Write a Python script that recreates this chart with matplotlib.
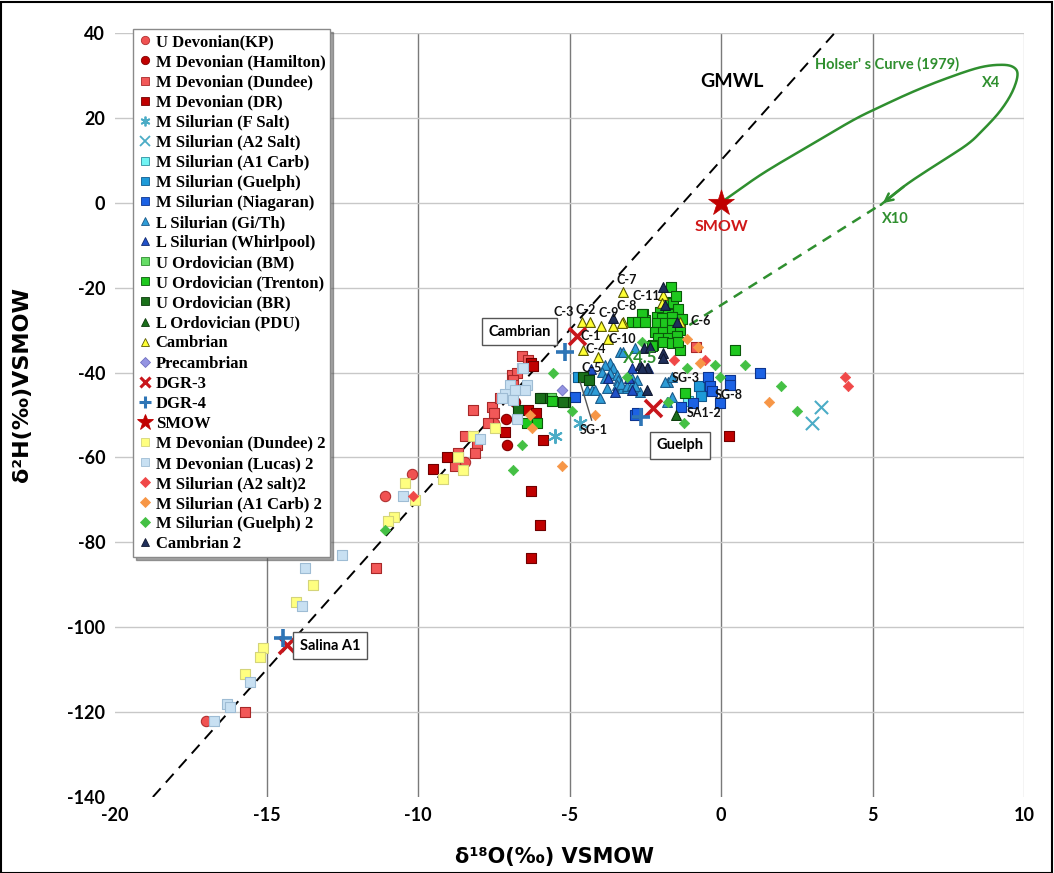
import matplotlib
matplotlib.use('Agg')
import numpy as np
import matplotlib.pyplot as plt
from matplotlib.lines import Line2D
from matplotlib.patches import Rectangle

# ---------------- data (delta18O, delta2H) ----------------
ukp_x = [-17.0, -11.1, -10.2, -8.45, -7.5]
ukp_y = [-122, -69, -64, -61, -52]
ham_x = [-7.07, -7.1, -6.8]
ham_y = [-57, -51, -47]
dundee_x = [-15.7, -11.4, -6.56, -6.36, -6.9, -6.74, -6.85, -6.86, -8.17, -7.57, -7.5, -8.45, -8.06, -8.12, -8.67, -8.78, -0.83, -7.3, -7.7]
dundee_y = [-120, -86, -36, -37, -40.6, -40.2, -41.7, -43, -48.8, -48, -49.5, -55, -57, -59, -59, -62, -34, -46, -52]
dr_x = [-6.27, -7.13, -9.05, -9.5, -5.86, -6.27, -5.97, -6.27, -6.36, -6.1, 0.26, -6.2]
dr_y = [-37.8, -53.9, -59.8, -62.8, -55.9, -68, -75.8, -83.8, -48.8, -49.5, -55, -38.5]
fsalt_x = [-5.48, -4.65]
fsalt_y = [-55, -52]
a2salt_x = [3.29, 3.01]
a2salt_y = [-48, -52]
a1carb_x = [-1.08]
a1carb_y = [-46.7]
guelph_x = [-4.71, -0.73, -0.65]
guelph_y = [-41, -43.2, -45.5]
niag_x = [-0.42, -0.36, -0.31, -0.03, 0.3, 0.3, 1.29, -1.32, -0.91, -2.84, -4.82, -2.78]
niag_y = [-41, -43.2, -44.3, -47.2, -41.8, -42.9, -40, -48, -47.1, -50, -45.8, -49.6]
gith_x = [-3.33, -3.66, -3.83, -3.55, -3.94, -3.66, -3.44, -3.83, -3.39, -2.95, -2.78, -4.43, -4.26, -4.16,
          -3.77, -3.44, -3.27, -3.1, -2.83, -2.67, -3.99, -1.74, -3.22, -2.84, -3.3, -3.1, -2.95, -2.84,
          -1.85, -1.63, -1.63, -1.79]
gith_y = [-35.1, -37.8, -38.2, -39, -39.8, -40.2, -40.6, -41.4, -41.7, -41.4, -41.7, -44.1, -44.1, -44.1,
          -43.7, -42.9, -43.7, -43.7, -43.7, -44.5, -46.1, -42.2, -35.1, -34.3, -42.7, -43.1, -42.9, -43.1,
          -42.2, -41, -45.8, -46.9]
whirl_x = [-3.72, -3.5, -2.95, -2.95, -2.4, -4.3, -3.05]
whirl_y = [-41.4, -44.5, -44.1, -39, -39, -39.2, -41.4]
bm_x = [-5.6]
bm_y = [-46.1]
trenton_x = [-1.65, -1.68, -1.6, -1.41, -2.01, -1.74, -2.58, -2.51, -2.12, -1.96, -1.63, -2.12, -1.85, -1.63,
             -2.18, -1.9, -1.63, -1.35, -2.07, -1.74, -1.46, -1.9, -1.63, -2.23, -1.35, -1.42, -2.62, -2.95,
             -2.73, -2.51, -2.29, 0.47, -1.19, -6.41, -6.08, -5.59, -1.5, -1.3]
trenton_y = [-19.9, -23.3, -23.7, -25.1, -25.7, -26.1, -26.1, -27.6, -26.8, -27.2, -26.8, -28.4, -28.4, -28.4,
             -30.4, -30.4, -30, -30, -31.9, -31.9, -31.5, -32.7, -33.1, -33.5, -34.7, -32.7, -26.1, -28,
             -28, -28, -33.7, -34.8, -44.9, -52, -52, -46.6, -22, -27.5]
br_x = [-5.15, -4.55, -4.35, -5.92, -6.69, -5.97, -5.2]
br_y = [-46.9, -41, -41.8, -45.9, -48.8, -46.1, -46.9]
pdu_x = [-1.49]
pdu_y = [-50]
camb_x = [-4.6, -4.32, -3.97, -3.22, -3.58, -3.72, -4.54, -4.05, -3.22, -1.9, -1.35, -1.96, -3.28]
camb_y = [-28, -28, -29, -21, -29, -32.2, -34.7, -36.3, -28, -21.7, -28, -23.7, -28.4]
precamb_x = [-5.26]
precamb_y = [-44]
dgr3_x = [-4.76, -2.23, -14.31]
dgr3_y = [-31.5, -48.4, -104.2]
dgr4_x = [-5.15, -2.65, -14.45]
dgr4_y = [-35.1, -50.4, -102.6]
smow_x = [0]
smow_y = [0]
dundee2_x = [-13.46, -14.04, -15.1, -15.21, -15.71, -10.43, -10.1, -10.78, -11.0, -7.46, -8.17, -8.5, -9.16, -8.67]
dundee2_y = [-90, -94, -105, -107, -111, -66, -70, -74, -75, -53, -55, -63, -65, -60]
lucas2_x = [-13.73, -13.82, -15.54, -16.3, -16.2, -16.72, -12.52, -10.5, -6.98, -7.13, -6.8, -6.58, -6.41,
            -6.47, -7.24, -6.74, -7.97, -6.88, -6.53]
lucas2_y = [-86, -95, -113, -118, -118.7, -122, -83, -69, -43, -45, -44, -39, -43,
            -44, -46, -51, -55.6, -46.5, -39]
a2salt2_x = [-10.16, -1.55, -0.53, 4.09, 4.2]
a2salt2_y = [-69, -37, -37, -41, -43.1]
a1carb2_x = [-1.13, -0.75, -0.69, 1.58, -4.16, -6.3, -6.25, -5.24]
a1carb2_y = [-32, -34, -37.8, -47, -50, -50, -53, -62]
guelph2_x = [-2.62, -1.13, -0.2, -0.03, 0.79, -1.22, -1.74, -3.11, 1.97, 2.5, -4.93, -5.53, -6.56, -6.85, -11.09]
guelph2_y = [-32.7, -39, -38.2, -41, -38.2, -52, -46.9, -41, -43.1, -49, -49, -40, -57, -63, -77]
camb2_x = [-1.92, -1.85, -1.44, -2.54, -1.92, -3.55, -2.67, -2.45, -2.34, -2.45, -1.9, -2.62]
camb2_y = [-19.8, -24.1, -28, -34.3, -35.5, -27.2, -38.2, -39, -33.9, -44.1, -36.6, -39]

# GMWL and Holser's curve
gmwl_x = [-18.75, 3.75]
gmwl_y = [-140, 40]
holser_x = [0.0, 0.13, 1.4, 3.05, 4.37, 5.25, 6.35, 7.44, 8.55, 9.32, 9.7, 9.78, 9.59, 9.2, 8.65, 8.1, 7.0, 6.1, 5.27]
holser_y = [0.0, 0.7, 7.0, 14.0, 19.5, 22.6, 26.2, 29.3, 31.9, 32.5, 31.7, 29.7, 25.8, 21.5, 17.2, 13.6, 8.5, 4.2, -0.5]
holser_dash_x = [5.1, -2.2]
holser_dash_y = [-1.2, -34.0]

# ---------------- styling ----------------
plt.rcParams['font.family'] = ['Lato', 'DejaVu Sans']
plt.rcParams['font.weight'] = 'bold'
plt.rcParams['axes.unicode_minus'] = False

fig = plt.figure(figsize=(10.54, 8.73), dpi=100)
ax = fig.add_axes([115/1054, 1-797/873, (1024-115)/1054, (797-33)/873])

series = [
    ('U Devonian(KP)', ukp_x, ukp_y, 'o', 55, '#F05252', '#B03030', 0.8),
    ('M Devonian (Hamilton)', ham_x, ham_y, 'o', 55, '#C00000', '#800000', 0.8),
    ('M Devonian (Dundee)', dundee_x, dundee_y, 's', 48, '#F25858', '#A82828', 0.8),
    ('M Devonian (DR)', dr_x, dr_y, 's', 48, '#C00000', '#700000', 0.8),
    ('M Silurian (F Salt)', fsalt_x, fsalt_y, (6, 2, 0), 90, '#4BACC6', '#4BACC6', 1.5),
    ('M Silurian (A2 Salt)', a2salt_x, a2salt_y, 'x', 90, '#4BACC6', '#4BACC6', 1.5),
    ('M Silurian (A1 Carb)', a1carb_x, a1carb_y, 's', 48, '#70F4F4', '#2E8FA0', 0.8),
    ('M Silurian (Guelph)', guelph_x, guelph_y, 's', 48, '#1E9AD8', '#0E5A90', 0.8),
    ('M Silurian (Niagaran)', niag_x, niag_y, 's', 48, '#1C62E4', '#0C3590', 0.8),
    ('L Silurian (Gi/Th)', gith_x, gith_y, '^', 50, '#2E9CD6', '#1A5A8A', 0.8),
    ('L Silurian (Whirlpool)', whirl_x, whirl_y, '^', 50, '#2050C8', '#102A70', 0.8),
    ('U Ordovician (BM)', bm_x, bm_y, 's', 48, '#66DD66', '#2E8B2E', 0.8),
    ('U Ordovician (Trenton)', trenton_x, trenton_y, 's', 48, '#1EC81E', '#0A5A0A', 0.8),
    ('U Ordovician (BR)', br_x, br_y, 's', 48, '#1A701A', '#0A3A0A', 0.8),
    ('L Ordovician (PDU)', pdu_x, pdu_y, '^', 50, '#1A6E1A', '#0A3A0A', 0.8),
    ('Cambrian', camb_x, camb_y, '^', 50, '#FFFF33', '#5A5A00', 0.8),
    ('Precambrian', precamb_x, precamb_y, 'D', 30, '#9494E2', '#7070C0', 0.6),
    ('DGR-3', dgr3_x, dgr3_y, 'x', 150, '#C8161C', '#C8161C', 2.6),
    ('DGR-4', dgr4_x, dgr4_y, '+', 180, '#2E75B6', '#2E75B6', 2.6),
    ('SMOW', smow_x, smow_y, '*', 380, '#C00000', '#C00000', 0.5),
    ('M Devonian (Dundee) 2', dundee2_x, dundee2_y, 's', 42, '#FFFF80', '#D4D47A', 0.8),
    ('M Devonian (Lucas) 2', lucas2_x, lucas2_y, 's', 42, '#C8E0F2', '#9EBCD4', 0.8),
    ('M Silurian (A2 salt)2', a2salt2_x, a2salt2_y, 'D', 28, '#F04848', '#F04848', 0.5),
    ('M Silurian (A1 Carb) 2', a1carb2_x, a1carb2_y, 'D', 28, '#F79646', '#F79646', 0.5),
    ('M Silurian (Guelph) 2', guelph2_x, guelph2_y, 'D', 28, '#44C044', '#44C044', 0.5),
    ('Cambrian 2', camb2_x, camb2_y, '^', 50, '#1F2F5A', '#101830', 0.8),
]

# grid lines
ax.set_xlim(-20, 10)
ax.set_ylim(-140, 40)
ax.set_xticks(range(-20, 11, 5))
ax.set_yticks(range(-140, 41, 20))
for xv in range(-15, 6, 5):
    ax.axvline(xv, color='#7a7a7a', lw=1.0, zorder=0)
ax.axvline(10, color='#c8c8c8', lw=1.0, zorder=0)
for yv in range(-120, 41, 20):
    ax.axhline(yv, color='#c8c8c8', lw=1.0, zorder=0)
for s in ax.spines.values():
    s.set_visible(False)
ax.tick_params(length=0, labelsize=13, pad=7)

# GMWL
ax.plot(gmwl_x, gmwl_y, color='black', lw=1.4, ls=(0, (6, 4)), zorder=1)

handles = []
for i, (lab, xs, ys, mk, sz, fc, ec, lw) in enumerate(series):
    if mk in ('x', '+') or isinstance(mk, tuple):
        ax.scatter(xs, ys, marker=mk, s=sz, c=fc, linewidths=lw, zorder=3 + i * 0.01)
        handles.append(Line2D([], [], ls='none', marker=mk, color=fc, markersize=7 if mk != '+' else 8,
                              markeredgewidth=1.3 if lw < 2 else 2.2))
    else:
        ax.scatter(xs, ys, marker=mk, s=sz, facecolors=fc, edgecolors=ec, linewidths=lw, zorder=3 + i * 0.01)
        msz = 6 if mk in ('s', 'o', '^') else (5 if mk == 'D' else 12)
        handles.append(Line2D([], [], ls='none', marker=mk, markerfacecolor=fc, markeredgecolor=ec,
                              markeredgewidth=0.6, markersize=msz))


def catmull_rom(px, py, n=12):
    p = np.column_stack([px, py]).astype(float)
    p = np.vstack([p[0], p, p[-1]])
    out = []
    for i in range(1, len(p) - 2):
        p0, p1, p2, p3 = p[i - 1], p[i], p[i + 1], p[i + 2]
        for t in np.linspace(0, 1, n, endpoint=False):
            t2, t3 = t * t, t * t * t
            out.append(0.5 * ((2 * p1) + (-p0 + p2) * t + (2 * p0 - 5 * p1 + 4 * p2 - p3) * t2
                              + (-p0 + 3 * p1 - 3 * p2 + p3) * t3))
    out.append(p[-2])
    out = np.array(out)
    return out[:, 0], out[:, 1]


# Holser's curve
green = '#2F8F2F'
hx, hy = catmull_rom(holser_x, holser_y)
ax.plot(hx, hy, color=green, lw=1.8, zorder=2, solid_capstyle='round')
ax.annotate('', xy=(holser_x[-1], holser_y[-1]), xytext=(holser_x[-2], holser_y[-2]),
            arrowprops=dict(arrowstyle='->', color=green, lw=1.8, mutation_scale=14), zorder=2)
ax.plot(holser_dash_x, holser_dash_y, color=green, lw=1.8, ls=(0, (4, 3)), zorder=2)

# annotations
ax.text(3.1, 32.7, "Holser' s Curve (1979)", color=green, fontsize=10.5, ha='left', va='center')
ax.text(8.9, 28.3, 'X4', color=green, fontsize=10.5, ha='center', va='center')
ax.text(5.75, -3.8, 'X10', color=green, fontsize=10.5, ha='center', va='center')
ax.text(-2.67, -36.6, 'X4.5', color=green, fontsize=12, ha='center', va='center', zorder=4)
ax.text(0.35, 28.6, 'GMWL', color='black', fontsize=14, ha='center', va='center')
ax.text(0.0, -5.6, 'SMOW', color='#D01818', fontsize=11.5, ha='center', va='center')

clabels = [('C-7', -3.1, -18.1), ('C-11', -2.48, -22), ('C-2', -4.46, -25.3), ('C-3', -5.2, -25.8),
           ('C-8', -3.1, -24.4), ('C-9', -3.7, -26), ('C-1', -4.3, -31.4), ('C-10', -3.27, -32.1),
           ('C-4', -4.13, -34.5), ('C-6', -0.66, -27.9), ('C-5', -4.26, -39), ('SG-1', -4.2, -53.5),
           ('SG-3', -1.16, -41.4), ('SG-8', 0.26, -45.3), ('SA1-2', -0.55, -49.6)]
for t, xv, yv in clabels:
    ax.text(xv, yv, t, fontsize=9, ha='center', va='center', color='#111111', zorder=6)
ax.plot([-4.65, -4.27], [-42.2, -51.2], color='#555555', lw=1.0, zorder=6)

boxprops = dict(boxstyle='square,pad=0.45', facecolor='white', edgecolor='#555555', lw=1.0)
ax.text(-6.65, -30.4, 'Cambrian', fontsize=10.5, ha='center', va='center', bbox=boxprops, zorder=7)
ax.text(-1.35, -57.1, 'Guelph', fontsize=10.5, ha='center', va='center', bbox=boxprops, zorder=7)
ax.text(-12.9, -104.4, 'Salina A1', fontsize=10.5, ha='center', va='center', bbox=boxprops, zorder=7)

ax.set_xlabel('δ¹⁸O(‰) VSMOW', fontsize=15, fontweight='bold', fontfamily='DejaVu Sans')
ax.set_ylabel('δ²H(‰)VSMOW', fontsize=16, fontweight='bold', fontfamily='DejaVu Sans')
ax.xaxis.label.set_va('center')
ax.yaxis.label.set_va('center')
ax.xaxis.set_label_coords(0.484, -0.078)
ax.yaxis.set_label_coords(-0.102, 0.54)

leg = ax.legend(handles, [s[0] for s in series], loc='upper left', bbox_to_anchor=(0.02, 1.005),
                prop={'family': 'Liberation Serif', 'weight': 'bold', 'size': 12},
                labelspacing=0.245, handlelength=0.8, handletextpad=0.25, borderpad=0.3,
                borderaxespad=0, frameon=True, fancybox=False, shadow=True, framealpha=1)
leg.get_frame().set_edgecolor('#8a8a8a')
leg.get_frame().set_linewidth(1.0)
leg.set_zorder(20)

fig.patches.append(Rectangle((0.001, 0.0), 0.997, 0.998, transform=fig.transFigure, fill=False,
                             edgecolor='black', lw=1.5))

fig.savefig('out.png', dpi=100)
